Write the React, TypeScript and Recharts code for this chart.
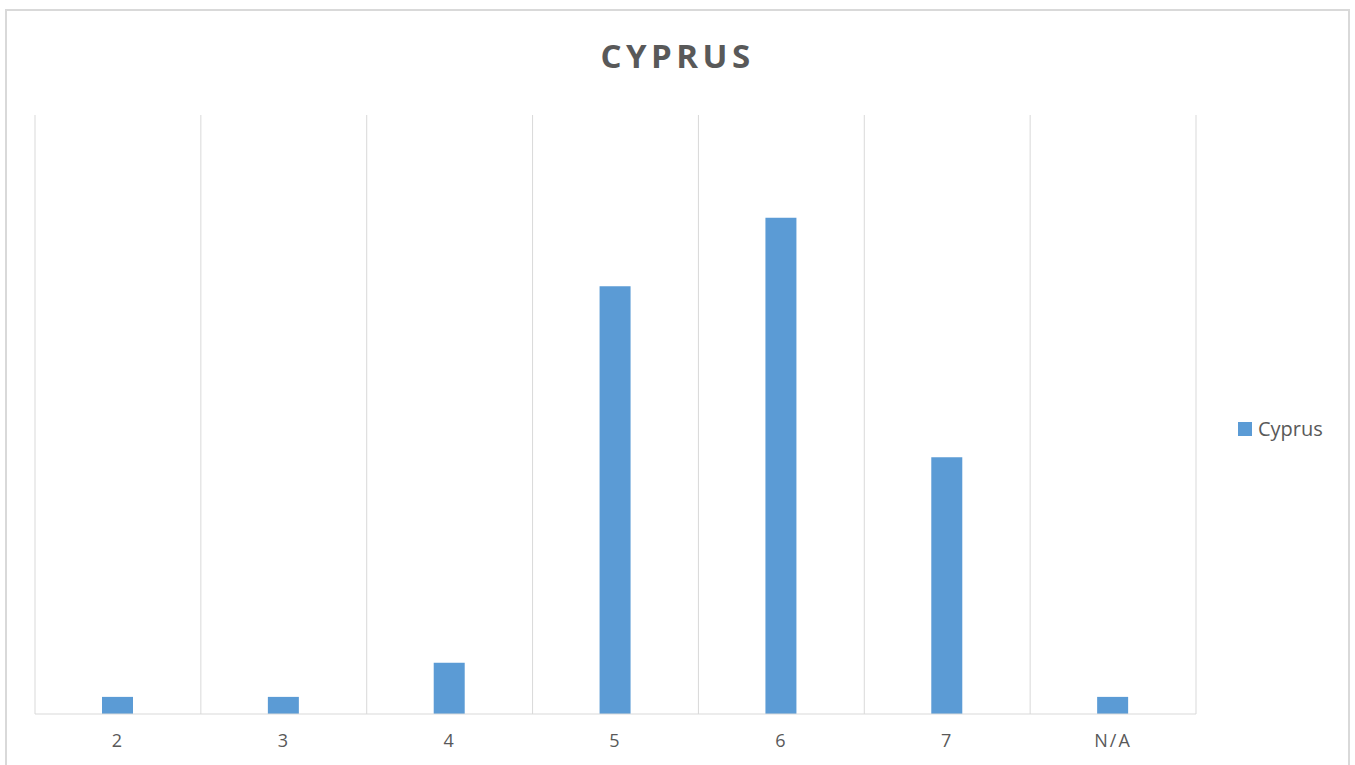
import { BarChart, Bar, XAxis, YAxis, CartesianGrid } from "recharts";

const CATEGORIES = ["2", "3", "4", "5", "6", "7", "N/A"];
const CYPRUS = [1, 1, 3, 25, 29, 15, 1];
const Y_MAX = 35;

const data = CATEGORIES.map((c, i) => ({ name: c, cyprus: CYPRUS[i] }));

const FONT = "'Open Sans', 'Liberation Sans', sans-serif";
const GRAY = "#595959";
const BLUE = "#5B9BD5";
const FRAME = "#d9d9d9";

export default function App() {
  return (
    <div style={{ position: "absolute", left: 0, top: 0, width: 1355, height: 765, overflow: "hidden", background: "#fff", fontFamily: FONT }}>
      <div style={{ position: "absolute", left: 0, top: 33, width: 1355, textAlign: "center", fontSize: 33, fontWeight: 700, letterSpacing: 4.5, color: GRAY }}>
        CYPRUS
      </div>
      <div style={{ position: "absolute", left: 0, top: 0 }}>
        <BarChart width={1355} height={765} data={data} margin={{ top: 115, right: 159, bottom: 21, left: 35 }}>
          <CartesianGrid
            horizontal={false}
            stroke={FRAME}
            verticalCoordinatesGenerator={({ offset }: any) =>
              CATEGORIES.map((_, i) => offset.left + (i * offset.width) / CATEGORIES.length).concat(offset.left + offset.width)
            }
          />
          <XAxis
            dataKey="name"
            height={30}
            tickLine={false}
            tickSize={0}
            tickMargin={20}
            stroke={FRAME}
            tick={{ fill: GRAY, fontSize: 18, fontFamily: FONT, letterSpacing: 2 }}
          />
          <YAxis hide domain={[0, Y_MAX]} />
          <Bar dataKey="cyprus" fill={BLUE} barSize={31} isAnimationActive={false} />
        </BarChart>
      </div>
      <div style={{ position: "absolute", left: 1238, top: 415, display: "flex", alignItems: "center", gap: 6, fontSize: 20, color: GRAY }}>
        <span style={{ width: 14, height: 14, background: BLUE, display: "inline-block" }} />
        Cyprus
      </div>
      <div style={{ position: "absolute", left: 5, top: 9, width: 2, height: 756, background: FRAME }} />
      <div style={{ position: "absolute", left: 1348, top: 9, width: 2, height: 756, background: FRAME }} />
      <div style={{ position: "absolute", left: 5, top: 9, width: 1345, height: 2, background: FRAME }} />
    </div>
  );
}
